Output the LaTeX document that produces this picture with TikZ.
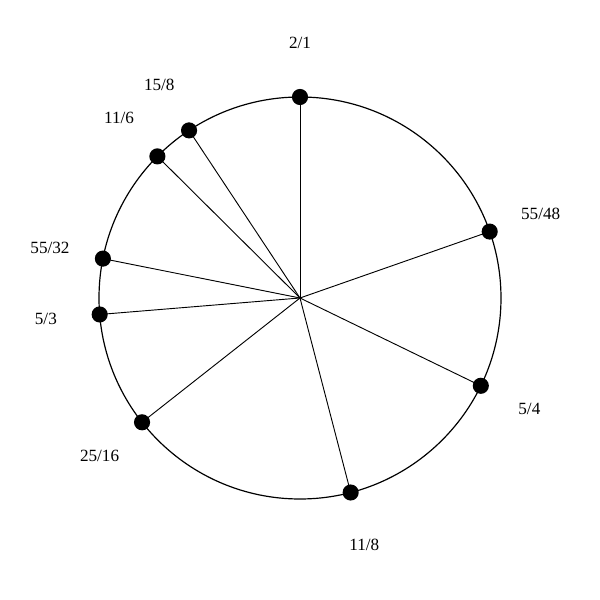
\documentclass[tikz,border=0pt]{standalone}
\usepackage{fontspec}
\setmainfont{Liberation Serif}
\usepackage{tikz}
\tikzset{dot/.style={circle, fill=black, inner sep=0pt, minimum size=0.43cm},
         ratio/.style={font=\fontsize{13}{15}\selectfont}}

\begin{document}
\begin{tikzpicture}[scale=2.6667]
\useasboundingbox (-3,-3.02) rectangle (3,2.98);
\coordinate (O) at (0,0);
\draw [line width=0.9pt] (O) circle (2.01);

\node [dot] (p21) at (90:2.01) {};
\node [dot] (p5548) at (19.3:2.01) {};
\node [dot] (p54) at (-25.9:2.01) {};
\node [dot] (p118) at (-75.4:2.01) {};
\node [dot] (p2516) at (-141.8:2.01) {};
\node [dot] (p53) at (-175.3:2.01) {};
\node [dot] (p5532) at (168.7:2.01) {};
\node [dot] (p116) at (135.2:2.01) {};
\node [dot] (p158) at (123.5:2.01) {};

\draw [line width=0.7pt] (O) -- (p21.center);
\draw [line width=0.7pt] (O) -- (p5548.center);
\draw [line width=0.7pt] (O) -- (p54.center);
\draw [line width=0.7pt] (O) -- (p118.center);
\draw [line width=0.7pt] (O) -- (p2516.center);
\draw [line width=0.7pt] (O) -- (p53.center);
\draw [line width=0.7pt] (O) -- (p5532.center);
\draw [line width=0.7pt] (O) -- (p116.center);
\draw [line width=0.7pt] (O) -- (p158.center);

\node [ratio] (l21) at (90:2.55) {2/1};
\node [ratio] (l5548) at (19.3:2.55) {55/48};
\node [ratio] (l54) at (-25.9:2.55) {5/4};
\node [ratio] (l118) at (-75.4:2.55) {11/8};
\node [ratio] (l2516) at (-141.8:2.55) {25/16};
\node [ratio] (l53) at (-175.3:2.55) {5/3};
\node [ratio] (l5532) at (168.7:2.55) {55/32};
\node [ratio] (l116) at (135.2:2.55) {11/6};
\node [ratio] (l158) at (123.5:2.55) {15/8};
\end{tikzpicture}
\end{document}
